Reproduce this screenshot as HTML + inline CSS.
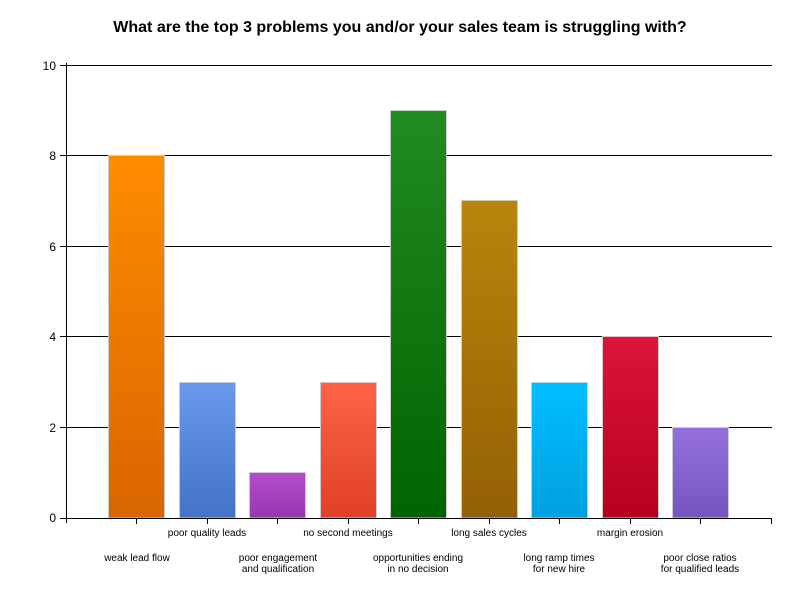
<!DOCTYPE html>
<html><head><meta charset="utf-8"><style>body{margin:0;background:#fff}</style></head><body>
<svg width="800" height="600" xmlns="http://www.w3.org/2000/svg" font-family="Liberation Sans, sans-serif">
<defs>
<linearGradient id="g0" x1="0" y1="0" x2="0" y2="1"><stop offset="0" stop-color="#ff8c00"/><stop offset="1" stop-color="#d96500"/></linearGradient>
<linearGradient id="g1" x1="0" y1="0" x2="0" y2="1"><stop offset="0" stop-color="#6a98ee"/><stop offset="1" stop-color="#4472c8"/></linearGradient>
<linearGradient id="g2" x1="0" y1="0" x2="0" y2="1"><stop offset="0" stop-color="#b44ccc"/><stop offset="1" stop-color="#9a35b0"/></linearGradient>
<linearGradient id="g3" x1="0" y1="0" x2="0" y2="1"><stop offset="0" stop-color="#ff6347"/><stop offset="1" stop-color="#df4027"/></linearGradient>
<linearGradient id="g4" x1="0" y1="0" x2="0" y2="1"><stop offset="0" stop-color="#228b22"/><stop offset="1" stop-color="#006400"/></linearGradient>
<linearGradient id="g5" x1="0" y1="0" x2="0" y2="1"><stop offset="0" stop-color="#b8860b"/><stop offset="1" stop-color="#946005"/></linearGradient>
<linearGradient id="g6" x1="0" y1="0" x2="0" y2="1"><stop offset="0" stop-color="#00bfff"/><stop offset="1" stop-color="#00a0e0"/></linearGradient>
<linearGradient id="g7" x1="0" y1="0" x2="0" y2="1"><stop offset="0" stop-color="#dc143c"/><stop offset="1" stop-color="#b8001e"/></linearGradient>
<linearGradient id="g8" x1="0" y1="0" x2="0" y2="1"><stop offset="0" stop-color="#9370db"/><stop offset="1" stop-color="#7755c0"/></linearGradient>
</defs>
<text x="400" y="32" text-anchor="middle" font-size="16" font-weight="bold">What are the top 3 problems you and/or your sales team is struggling with?</text>
<g stroke="#000" stroke-width="1">
<line x1="66" y1="65.5" x2="772" y2="65.5"/>
<line x1="66" y1="155.5" x2="772" y2="155.5"/>
<line x1="66" y1="246.5" x2="772" y2="246.5"/>
<line x1="66" y1="336.5" x2="772" y2="336.5"/>
<line x1="66" y1="427.5" x2="772" y2="427.5"/>
</g>
<g font-size="12" text-anchor="end">
<text x="56" y="70">10</text><text x="56" y="160">8</text><text x="56" y="251">6</text><text x="56" y="341">4</text><text x="56" y="432">2</text><text x="56" y="522">0</text>
</g>
<g stroke="#ccc" stroke-width="1">
<rect x="108.5" y="155.5" width="56" height="362.5" fill="url(#g0)"/>
<rect x="179.5" y="382.5" width="56" height="135.5" fill="url(#g1)"/>
<rect x="249.5" y="472.5" width="56" height="45.5" fill="url(#g2)"/>
<rect x="320.5" y="382.5" width="56" height="135.5" fill="url(#g3)"/>
<rect x="390.5" y="110.5" width="56" height="407.5" fill="url(#g4)"/>
<rect x="461.5" y="200.5" width="56" height="317.5" fill="url(#g5)"/>
<rect x="531.5" y="382.5" width="56" height="135.5" fill="url(#g6)"/>
<rect x="602.5" y="336.5" width="56" height="181.5" fill="url(#g7)"/>
<rect x="672.5" y="427.5" width="56" height="90.5" fill="url(#g8)"/>
</g>
<g stroke="#000" stroke-width="1">
<line x1="66.5" y1="63" x2="66.5" y2="523"/>
<line x1="60" y1="518.5" x2="772" y2="518.5"/>
<line x1="60" y1="65.5" x2="66" y2="65.5"/><line x1="60" y1="155.5" x2="66" y2="155.5"/><line x1="60" y1="246.5" x2="66" y2="246.5"/><line x1="60" y1="336.5" x2="66" y2="336.5"/><line x1="60" y1="427.5" x2="66" y2="427.5"/>
<line x1="136.5" y1="518" x2="136.5" y2="524"/><line x1="207.5" y1="518" x2="207.5" y2="524"/><line x1="277.5" y1="518" x2="277.5" y2="524"/><line x1="348.5" y1="518" x2="348.5" y2="524"/><line x1="418.5" y1="518" x2="418.5" y2="524"/><line x1="489.5" y1="518" x2="489.5" y2="524"/><line x1="559.5" y1="518" x2="559.5" y2="524"/><line x1="630.5" y1="518" x2="630.5" y2="524"/><line x1="700.5" y1="518" x2="700.5" y2="524"/><line x1="771.5" y1="518" x2="771.5" y2="524"/>
</g>
<g font-size="10" text-anchor="middle" fill="#000">
<text x="207" y="536">poor quality leads</text>
<text x="348" y="536">no second meetings</text>
<text x="489" y="536">long sales cycles</text>
<text x="630" y="536">margin erosion</text>
<text x="137" y="561">weak lead flow</text>
<text x="278" y="561">poor engagement</text><text x="278" y="572">and qualification</text>
<text x="418" y="561">opportunities ending</text><text x="418" y="572">in no decision</text>
<text x="559" y="561">long ramp times</text><text x="559" y="572">for new hire</text>
<text x="700" y="561">poor close ratios</text><text x="700" y="572">for qualified leads</text>
</g>
</svg>
</body></html>
